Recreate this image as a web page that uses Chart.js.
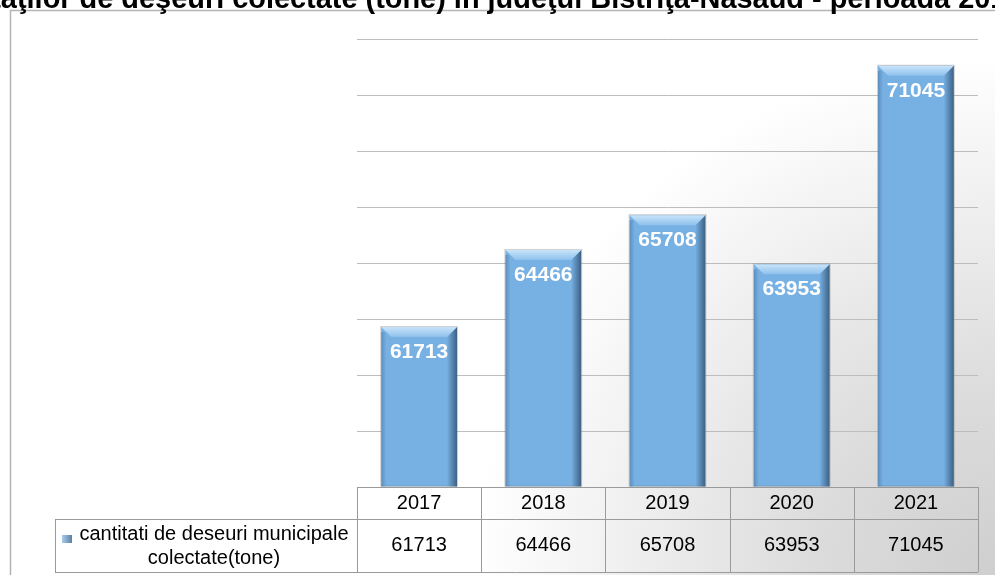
<!DOCTYPE html>
<html>
<head>
<meta charset="utf-8">
<script src="https://cdn.jsdelivr.net/npm/chart.js@4/dist/chart.umd.min.js"></script>
<style>
  html, body { margin: 0; padding: 0; background: #fff; overflow: hidden; }
  #wrap { width: 995px; height: 575px; position: relative; }
</style>
</head>
<body>
<div id="wrap"><canvas id="c"></canvas></div>
<script>
const titleText = 'Evoluţia cantităţilor de deşeuri colectate (tone) în judeţul Bistriţa-Năsăud - perioada 2017-2021';
const titleHidden = 'Evoluţia cantit';
const titleShown = 'ăţilor de deşeuri colectate (tone) în judeţul Bistriţa-Năsăud - perioada 2';
const years = ['2017', '2018', '2019', '2020', '2021'];
const tonnes = [61713, 64466, 65708, 63953, 71045];
const seriesName = ['cantitati de deseuri municipale', 'colectate(tone)'];
const yMin = 56000, yMax = 72000, yStep = 2000;

const FONT = 'Arial, "Liberation Sans", sans-serif';

// background, frame and cut-off title
const backdrop = {
  id: 'backdrop',
  beforeDraw(chart) {
    const ctx = chart.ctx;
    const W = chart.width, H = chart.height;
    ctx.save();
    ctx.fillStyle = '#fff';
    ctx.fillRect(0, 0, W, H);
    const g = ctx.createRadialGradient(W, H, 0, W, H, 520);
    g.addColorStop(0, '#cfcfcf');
    g.addColorStop(0.35, '#dcdcdc');
    g.addColorStop(1, '#ffffff');
    ctx.fillStyle = g;
    ctx.fillRect(10, 10, W - 10, H - 10);
    ctx.strokeStyle = '#b4b4b4';
    ctx.lineWidth = 1.5;
    ctx.beginPath();
    ctx.moveTo(10.5, H);
    ctx.lineTo(10.5, 10.5);
    ctx.lineTo(W, 10.5);
    ctx.stroke();

    // title, only its lower part fits on the page
    ctx.font = 'bold 100px ' + FONT;
    const wPre = ctx.measureText(titleHidden).width;
    const wVis = ctx.measureText(titleShown).width;
    const size = 100 * 974 / wVis;
    ctx.font = 'bold ' + size.toFixed(2) + 'px ' + FONT;
    ctx.fillStyle = '#000';
    ctx.textBaseline = 'alphabetic';
    ctx.textAlign = 'left';
    ctx.fillText(titleText, 1 - wPre * size / 100, 8);
    ctx.restore();
  }
};

// bevel look and value labels on bars
const bevel = {
  id: 'bevel',
  afterDatasetsDraw(chart) {
    const ctx = chart.ctx;
    const meta = chart.getDatasetMeta(0);
    ctx.save();
    meta.data.forEach((bar, i) => {
      const l = bar.x - bar.width / 2, r = bar.x + bar.width / 2;
      const t = bar.y, b = bar.base;
      const d = 10;
      // right dark edge
      let g = ctx.createLinearGradient(r - d, 0, r, 0);
      g.addColorStop(0, 'rgba(40,70,100,0)');
      g.addColorStop(1, 'rgba(40,70,100,0.75)');
      ctx.fillStyle = g;
      ctx.beginPath();
      ctx.moveTo(r, t); ctx.lineTo(r - d, t + d); ctx.lineTo(r - d, b); ctx.lineTo(r, b); ctx.closePath();
      ctx.fill();
      // left edge
      g = ctx.createLinearGradient(l, 0, l + 5, 0);
      g.addColorStop(0, 'rgba(60,100,140,0.45)');
      g.addColorStop(1, 'rgba(60,100,140,0)');
      ctx.fillStyle = g;
      ctx.fillRect(l, t + 5, 5, b - t - 5);
      // top highlight
      g = ctx.createLinearGradient(0, t, 0, t + d);
      g.addColorStop(0, '#c9e4fa');
      g.addColorStop(1, '#8ec1ec');
      ctx.fillStyle = g;
      ctx.beginPath();
      ctx.moveTo(l, t); ctx.lineTo(r, t); ctx.lineTo(r - d, t + d); ctx.lineTo(l + d, t + d); ctx.closePath();
      ctx.fill();
      // soft outline
      ctx.strokeStyle = 'rgba(120,120,120,0.35)';
      ctx.lineWidth = 1;
      ctx.strokeRect(l - 0.5, t - 0.5, r - l + 1, b - t);
      // label
      ctx.fillStyle = '#fff';
      ctx.font = 'bold 21px ' + FONT;
      ctx.textAlign = 'center';
      ctx.textBaseline = 'middle';
      ctx.fillText(String(tonnes[i]), bar.x, t + 25);
    });
    ctx.restore();
  }
};

// data table under the plot
const dataTable = {
  id: 'dataTable',
  afterDraw(chart) {
    const ctx = chart.ctx;
    const area = chart.chartArea;
    const xs = chart.scales.x;
    const colW = area.width / years.length;
    const r0 = area.bottom, r1 = r0 + 32, r2 = r1 + 53;
    const legL = 55;
    ctx.save();
    ctx.strokeStyle = '#9a9a9a';
    ctx.lineWidth = 1;
    ctx.beginPath();
    ctx.moveTo(area.left, r0 + 0.5); ctx.lineTo(area.right, r0 + 0.5);
    ctx.moveTo(legL, r1 + 0.5); ctx.lineTo(area.right, r1 + 0.5);
    ctx.moveTo(legL, r2 + 0.5); ctx.lineTo(area.right, r2 + 0.5);
    ctx.moveTo(legL + 0.5, r1); ctx.lineTo(legL + 0.5, r2);
    for (let i = 0; i <= years.length; i++) {
      const x = Math.round(area.left + i * colW) + 0.5;
      ctx.moveTo(x, r0); ctx.lineTo(x, r2);
    }
    ctx.stroke();

    ctx.fillStyle = '#000';
    ctx.font = '20px ' + FONT;
    ctx.textAlign = 'center';
    ctx.textBaseline = 'middle';
    years.forEach((y, i) => {
      const cx = xs.getPixelForValue(i);
      ctx.fillText(y, cx, r0 + 16);
      ctx.fillText(String(tonnes[i]), cx, r1 + 26);
    });

    // legend cell
    const lc = 214;
    ctx.fillText(seriesName[0], lc, r1 + 15);
    ctx.fillText(seriesName[1], lc, r1 + 39);
    const g = ctx.createLinearGradient(62, 0, 73, 0);
    g.addColorStop(0, '#a7cdee');
    g.addColorStop(1, '#55799c');
    ctx.fillStyle = g;
    ctx.fillRect(62, r1 + 16, 10, 8);
    ctx.restore();
  }
};

new Chart(document.getElementById('c'), {
  type: 'bar',
  data: {
    labels: years,
    datasets: [{
      label: seriesName.join(' '),
      data: tonnes,
      base: yMin,
      backgroundColor: '#77b0e3',
      borderWidth: 0,
      categoryPercentage: 1,
      barPercentage: 0.61
    }]
  },
  options: {
    responsive: true,
    maintainAspectRatio: false,
    animation: false,
    devicePixelRatio: 1,
    layout: { padding: { left: 357, right: 17, top: 39, bottom: 88 } },
    plugins: {
      legend: { display: false },
      title: { display: false },
      tooltip: { enabled: false }
    },
    scales: {
      x: { display: false },
      y: {
        min: yMin,
        max: yMax,
        ticks: { stepSize: yStep, display: false },
        grid: { color: '#bdbdbd', drawTicks: false, lineWidth: 1 },
        border: { display: false },
        afterFit(s) { s.width = 0; }
      }
    }
  },
  plugins: [backdrop, bevel, dataTable]
});
</script>
</body>
</html>
